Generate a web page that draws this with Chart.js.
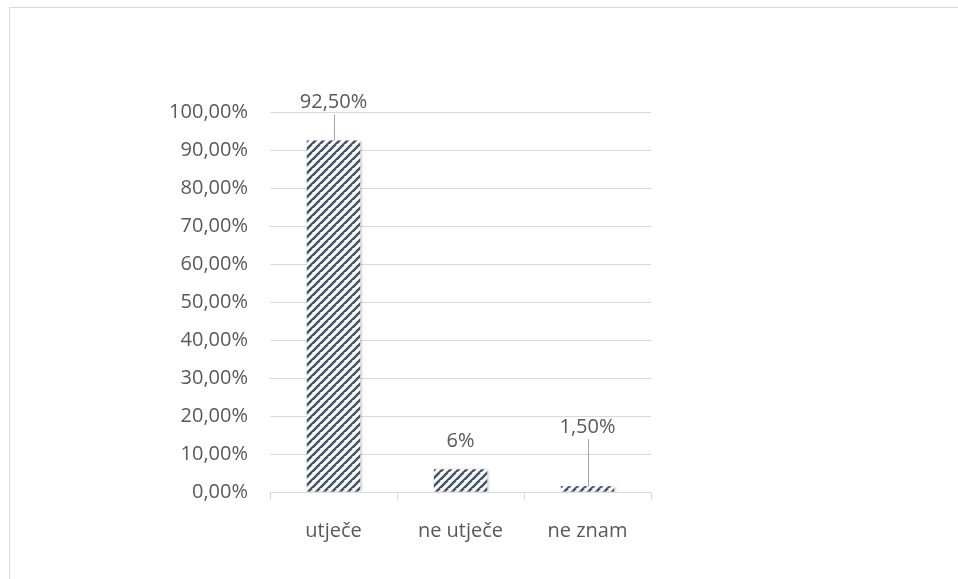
<!DOCTYPE html>
<html>
<head>
<meta charset="utf-8">
<script src="https://cdn.jsdelivr.net/npm/chart.js@4.4.1/dist/chart.umd.min.js"></script>
<style>
  html, body { margin: 0; padding: 0; background: #fff; }
  #frame {
    position: absolute; left: 9px; top: 7px; right: 0; bottom: 0;
    border-top: 1px solid #d9d9d9; border-left: 1px solid #d9d9d9;
  }
  #wrap { position: absolute; left: 0; top: 0; width: 958px; height: 579px; }
</style>
</head>
<body>
<div id="frame"></div>
<div id="wrap"><canvas id="chart" width="958" height="579"></canvas></div>
<script>
// data
const kategori = ["utječe", "ne utječe", "ne znam"];
const nilai = [92.5, 6, 1.5];
const teksLabel = ["92,50%", "6%", "1,50%"];
const tickY = [0, 10, 20, 30, 40, 50, 60, 70, 80, 90, 100];

// label placement (pixels above bar top) and leader lines, like in the original
const angkatLabel = [38, 28, 59];
const garisPenuntun = [true, false, true];

const FONT = "'Open Sans', sans-serif";
const UKURAN = 20;
const WARNA_TEKS = "#595959";

// diagonal stripe pattern for the bars
function buatPola() {
  const s = 8;
  const c = document.createElement("canvas");
  c.width = s; c.height = s;
  const g = c.getContext("2d");
  g.fillStyle = "#ffffff";
  g.fillRect(0, 0, s, s);
  g.strokeStyle = "#44546a";
  g.lineWidth = 2.6;
  g.beginPath();
  for (let k = -s; k <= 2 * s; k += s) {
    g.moveTo(k - s, 2 * s);
    g.lineTo(k + s, 0);
  }
  g.stroke();
  return g.createPattern(c, "repeat");
}

const ctx = document.getElementById("chart").getContext("2d");

// plugin: data labels + leader lines
const pluginLabel = {
  id: "labelData",
  afterDatasetsDraw(chart) {
    const c = chart.ctx;
    const meta = chart.getDatasetMeta(0);
    c.save();
    c.font = UKURAN + "px " + FONT;
    c.fillStyle = WARNA_TEKS;
    c.textAlign = "center";
    c.textBaseline = "middle";
    meta.data.forEach((bar, i) => {
      const yLabel = bar.y - angkatLabel[i];
      c.fillText(teksLabel[i], bar.x, yLabel);
      if (garisPenuntun[i]) {
        c.strokeStyle = "#a6a6a6";
        c.lineWidth = 1;
        c.beginPath();
        c.moveTo(Math.round(bar.x) + 0.5, yLabel + 12);
        c.lineTo(Math.round(bar.x) + 0.5, bar.y);
        c.stroke();
      }
    });
    c.restore();
  },
};

// soft shadow under bars
const pluginBayangan = {
  id: "bayangan",
  beforeDatasetsDraw(chart) {
    chart.ctx.save();
    chart.ctx.shadowColor = "rgba(0,0,0,0.25)";
    chart.ctx.shadowBlur = 3;
    chart.ctx.shadowOffsetX = 1;
    chart.ctx.shadowOffsetY = 1;
  },
  afterDatasetsDraw(chart) {
    chart.ctx.restore();
  },
};

new Chart(ctx, {
  type: "bar",
  data: {
    labels: kategori,
    datasets: [{
      data: nilai,
      backgroundColor: buatPola(),
      borderWidth: 0,
      categoryPercentage: 1,
      barPercentage: 0.42,
    }],
  },
  options: {
    responsive: false,
    animation: false,
    events: [],
    layout: { padding: { left: 0, right: 307, top: 112, bottom: 0 } },
    plugins: { legend: { display: false }, tooltip: { enabled: false } },
    scales: {
      x: {
        grid: {
          display: true, drawOnChartArea: false, drawTicks: true,
          tickLength: 8, color: "#d9d9d9", offset: true,
        },
        border: { display: true, color: "#d9d9d9" },
        ticks: { color: WARNA_TEKS, font: { family: FONT, size: UKURAN }, padding: 19 },
        afterFit(scale) { scale.height = 87; },
      },
      y: {
        min: 0, max: 100,
        afterBuildTicks(scale) { scale.ticks = tickY.map(v => ({ value: v })); },
        grid: { color: "#d9d9d9", drawTicks: false },
        border: { display: false },
        ticks: {
          color: WARNA_TEKS,
          font: { family: FONT, size: UKURAN },
          padding: 22,
          callback: (v) => v.toFixed(2).replace(".", ",") + "%",
        },
        afterFit(scale) { scale.width = 270; },
      },
    },
  },
  plugins: [pluginBayangan, pluginLabel],
});
</script>
</body>
</html>
